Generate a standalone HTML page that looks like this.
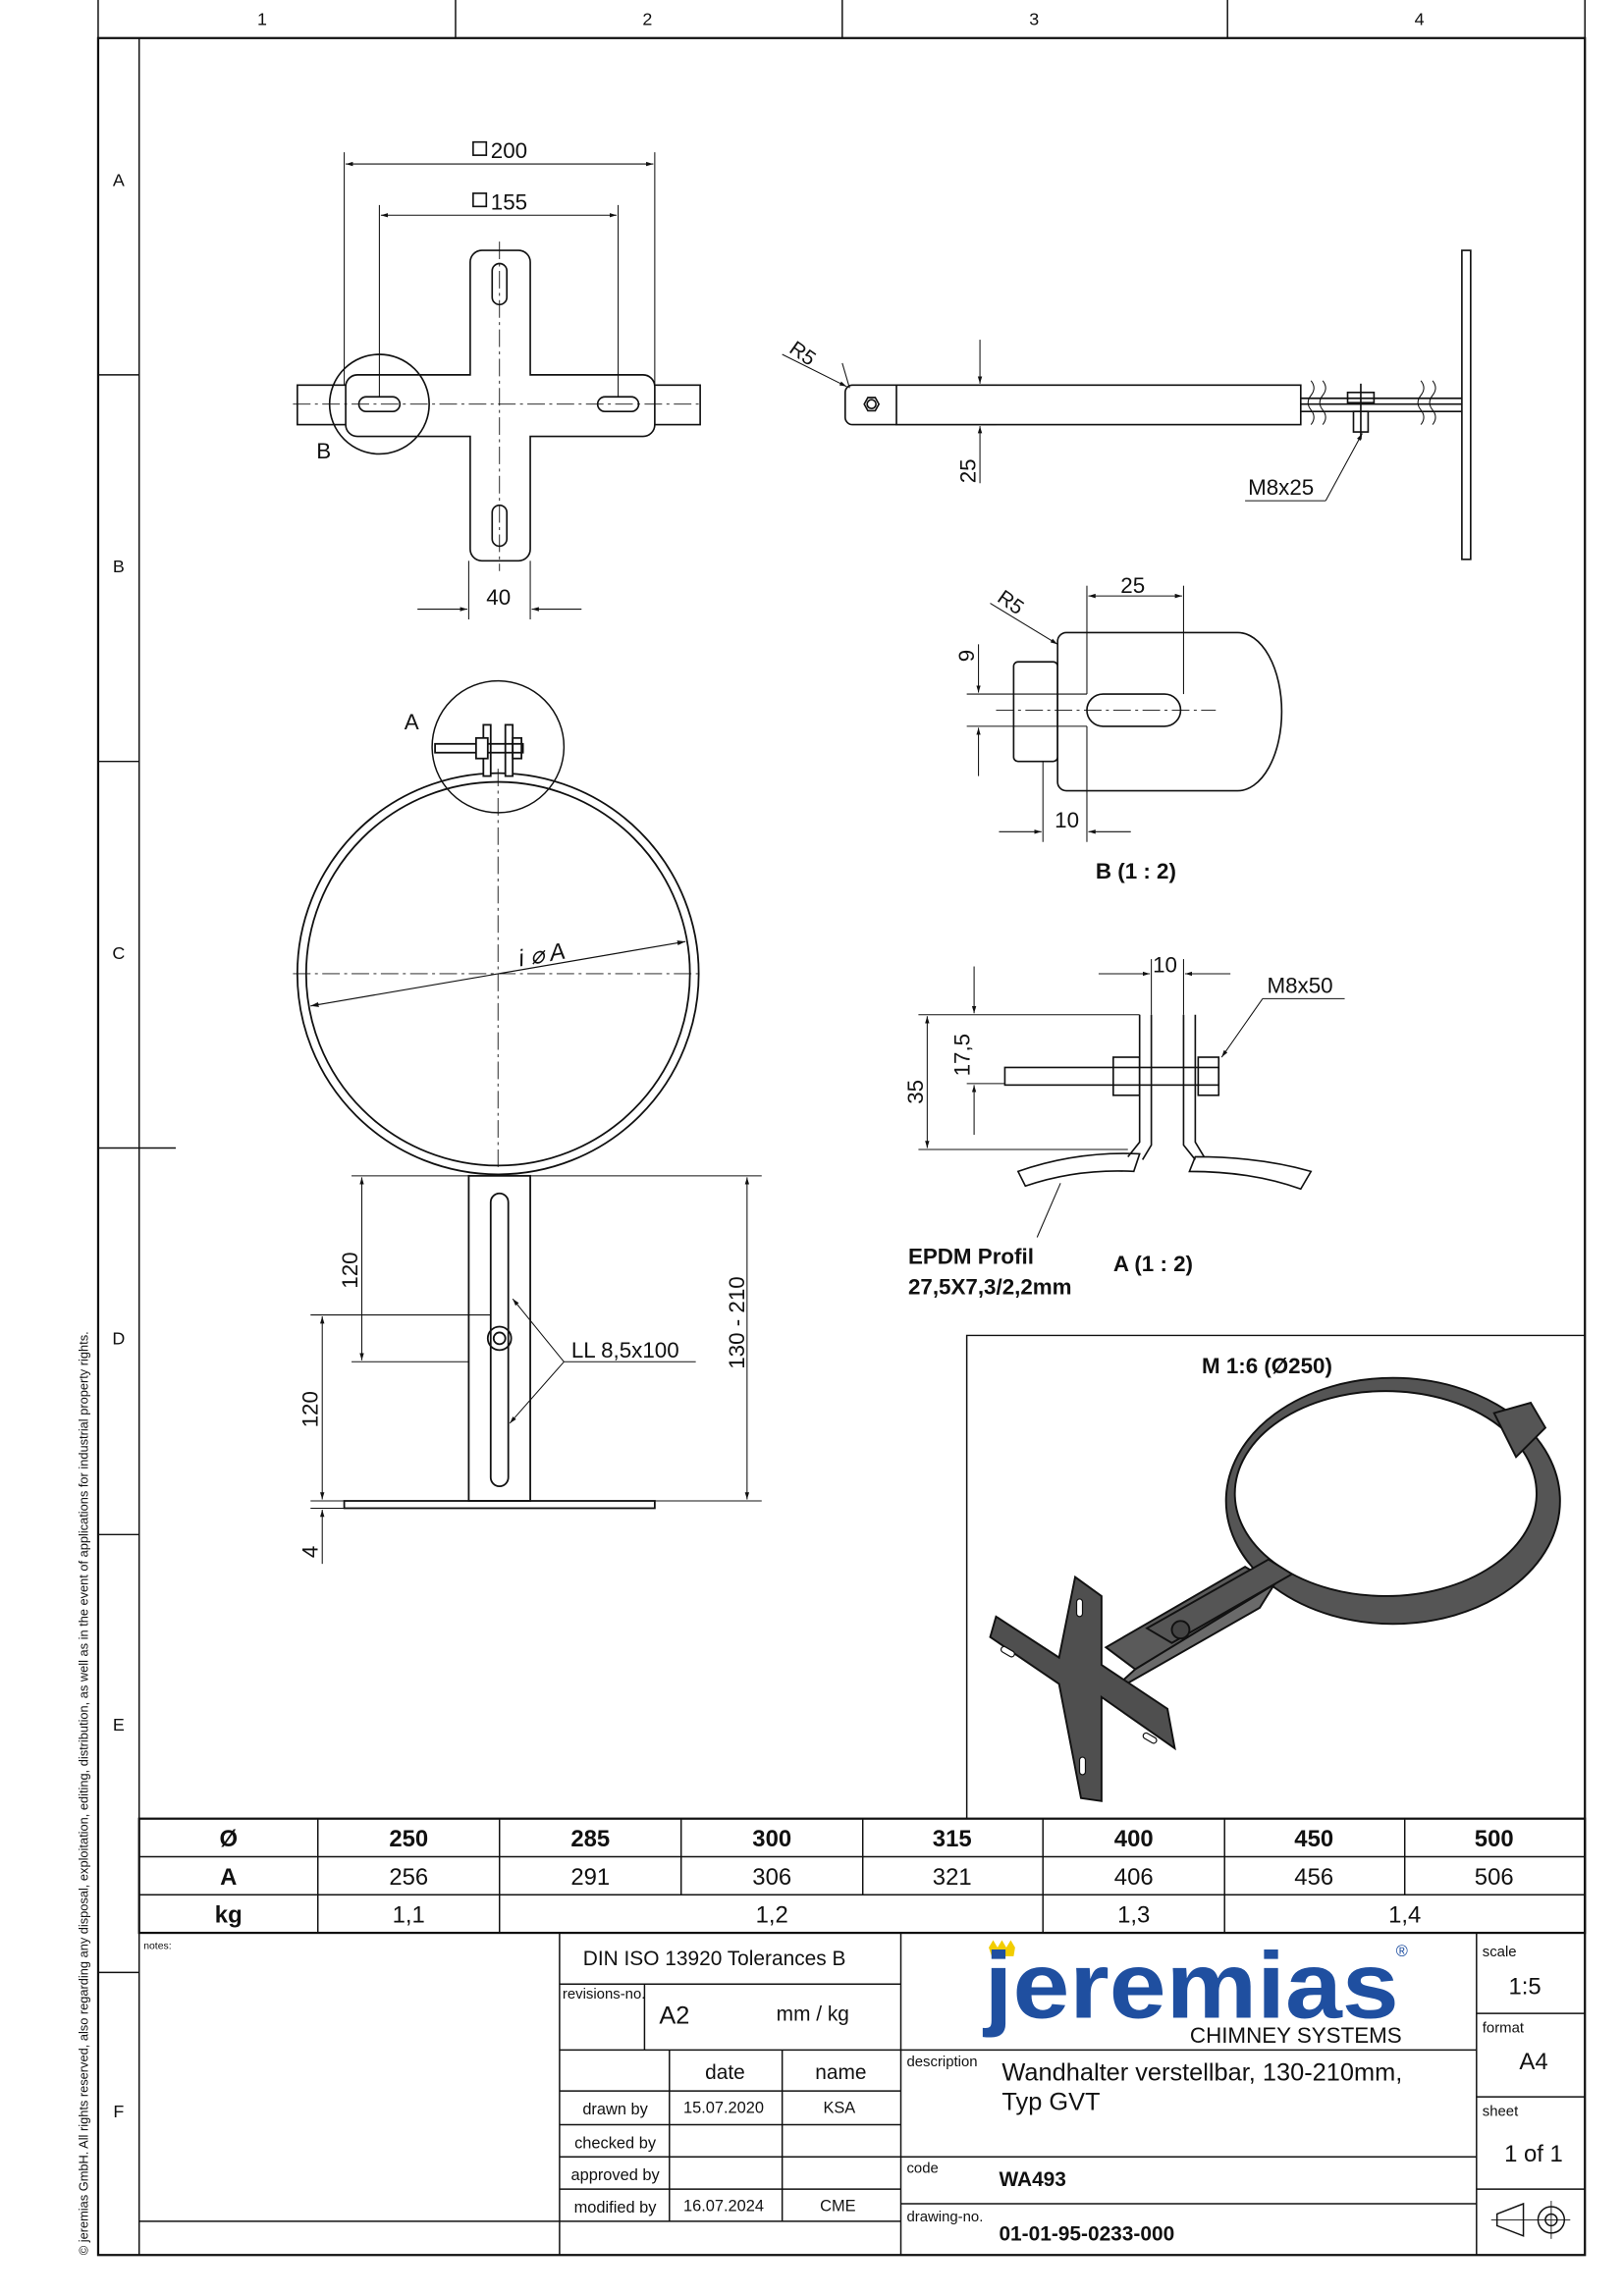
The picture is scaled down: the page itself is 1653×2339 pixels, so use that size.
<!DOCTYPE html>
<html><head><meta charset="utf-8"><style>
html,body{margin:0;padding:0;background:#fff}
svg{display:block}
text{font-family:"Liberation Sans",sans-serif;fill:#111}
</style></head><body>
<svg width="1653" height="2339" viewBox="0 0 1108 1568" preserveAspectRatio="none" xmlns="http://www.w3.org/2000/svg">
<defs>
<marker id="ar" viewBox="0 0 10 10" refX="10" refY="5" markerWidth="7" markerHeight="7" orient="auto-start-reverse"><path d="M0,2 L10,5 L0,8z" fill="#111"/></marker>
</defs>
<g fill="none" stroke="#111" stroke-width="1">
<line x1="67" y1="0" x2="67" y2="26"/>
<line x1="311" y1="0" x2="311" y2="26"/><line x1="575" y1="0" x2="575" y2="26"/><line x1="838" y1="0" x2="838" y2="26"/><line x1="1082" y1="0" x2="1082" y2="26"/>
<rect x="67" y="26" width="1015" height="1514" stroke-width="1.5"/>
<line x1="95" y1="26" x2="95" y2="1540"/>
<line x1="67" y1="256" x2="95" y2="256"/><line x1="67" y1="520" x2="95" y2="520"/><line x1="67" y1="784" x2="120" y2="784"/><line x1="67" y1="1048" x2="95" y2="1048"/><line x1="67" y1="1347" x2="95" y2="1347"/>
<rect x="95" y="1242" width="987" height="78" stroke-width="1.5"/>
<line x1="95" y1="1268" x2="1082" y2="1268"/><line x1="95" y1="1294" x2="1082" y2="1294"/>
<line x1="217" y1="1242" x2="217" y2="1320"/><line x1="341" y1="1242" x2="341" y2="1320"/>
<line x1="465" y1="1242" x2="465" y2="1294"/><line x1="589" y1="1242" x2="589" y2="1294"/>
<line x1="712" y1="1242" x2="712" y2="1320"/><line x1="836" y1="1242" x2="836" y2="1320"/>
<line x1="959" y1="1242" x2="959" y2="1294"/>
<line x1="382" y1="1320" x2="382" y2="1540"/><line x1="615" y1="1320" x2="615" y2="1540"/><line x1="1008" y1="1320" x2="1008" y2="1540"/>
<line x1="382" y1="1355" x2="615" y2="1355"/><line x1="440" y1="1355" x2="440" y2="1400"/>
<line x1="382" y1="1400" x2="1008" y2="1400"/>
<line x1="457" y1="1400" x2="457" y2="1517"/><line x1="534" y1="1400" x2="534" y2="1517"/>
<line x1="382" y1="1428" x2="615" y2="1428"/><line x1="382" y1="1451" x2="615" y2="1451"/><line x1="382" y1="1473" x2="615" y2="1473"/><line x1="382" y1="1495" x2="615" y2="1495"/>
<line x1="95" y1="1517" x2="615" y2="1517"/>
<line x1="615" y1="1473" x2="1008" y2="1473"/><line x1="615" y1="1505" x2="1008" y2="1505"/>
<line x1="1008" y1="1375" x2="1082" y2="1375"/><line x1="1008" y1="1432" x2="1082" y2="1432"/><line x1="1008" y1="1495" x2="1082" y2="1495"/>
<path d="M1022,1512 L1040,1505 L1040,1527 L1022,1520z"/><circle cx="1059" cy="1516" r="9"/><circle cx="1059" cy="1516" r="4"/><line x1="1018" y1="1516" x2="1072" y2="1516" stroke-width="0.6"/><line x1="1059" y1="1503" x2="1059" y2="1529" stroke-width="0.6"/>
<polyline points="660,1242 660,912 1082,912"/>
</g>

<g font-size="12" text-anchor="middle">
<text x="179" y="17">1</text><text x="442" y="17">2</text><text x="706" y="17">3</text><text x="969" y="17">4</text>
<text x="81" y="127">A</text><text x="81" y="391">B</text><text x="81" y="655">C</text><text x="81" y="918">D</text><text x="81" y="1182">E</text><text x="81" y="1446">F</text>
</g>
<text transform="translate(60,1540) rotate(-90)" font-size="8.6">© jeremias GmbH. All rights reserved, also regarding any disposal, exploitation, editing, distribution, as well as in the event of applications for industrial property rights.</text>

<g font-size="16" text-anchor="middle">
<g font-weight="bold"><text x="156" y="1261">Ø</text><text x="279" y="1261">250</text><text x="403" y="1261">285</text><text x="527" y="1261">300</text><text x="650" y="1261">315</text><text x="774" y="1261">400</text><text x="897" y="1261">450</text><text x="1020" y="1261">500</text>
<text x="156" y="1287">A</text><text x="156" y="1313">kg</text></g>
<text x="279" y="1287">256</text><text x="403" y="1287">291</text><text x="527" y="1287">306</text><text x="650" y="1287">321</text><text x="774" y="1287">406</text><text x="897" y="1287">456</text><text x="1020" y="1287">506</text>
<text x="279" y="1313">1,1</text><text x="527" y="1313">1,2</text><text x="774" y="1313">1,3</text><text x="959" y="1313">1,4</text>
</g>
<text x="98" y="1331" font-size="7">notes:</text>
<text x="398" y="1342" font-size="14">DIN ISO 13920 Tolerances B</text>
<text x="384" y="1365" font-size="10">revisions-no.</text>
<text x="450" y="1382" font-size="17">A2</text>
<text x="530" y="1380" font-size="14">mm / kg</text>
<text x="495" y="1420" font-size="14" text-anchor="middle">date</text><text x="574" y="1420" font-size="14" text-anchor="middle">name</text>
<g font-size="11" text-anchor="middle"><text x="420" y="1444">drawn by</text><text x="494" y="1443">15.07.2020</text><text x="573" y="1443">KSA</text>
<text x="420" y="1467">checked by</text><text x="420" y="1489">approved by</text>
<text x="420" y="1511">modified by</text><text x="494" y="1510">16.07.2024</text><text x="572" y="1510">CME</text></g>
<text x="619" y="1411" font-size="10">description</text>
<text x="684" y="1421" font-size="17">Wandhalter verstellbar, 130-210mm,</text>
<text x="684" y="1441" font-size="17">Typ GVT</text>
<text x="619" y="1484" font-size="10">code</text><text x="682" y="1493" font-size="14" font-weight="bold">WA493</text>
<text x="619" y="1517" font-size="10">drawing-no.</text><text x="682" y="1530" font-size="14" font-weight="bold">01-01-95-0233-000</text>
<text x="1012" y="1336" font-size="10">scale</text><text x="1041" y="1362" font-size="16" text-anchor="middle">1:5</text>
<text x="1012" y="1388" font-size="10">format</text><text x="1047" y="1413" font-size="16" text-anchor="middle">A4</text>
<text x="1012" y="1445" font-size="10">sheet</text><text x="1047" y="1476" font-size="16" text-anchor="middle">1 of 1</text>
<path d="M675,1330 L678,1325 L681,1330 L684,1325 L687,1330 L690,1325 L693,1330 L692,1336 L677,1336z" fill="#f2cd00"/>
<text x="672" y="1378" font-size="64" font-weight="bold" textLength="283" lengthAdjust="spacingAndGlyphs" style="fill:#1f4fa0">jeremias</text>
<text x="953" y="1336" font-size="11" style="fill:#1f4fa0">®</text>
<text x="957" y="1395" font-size="15" text-anchor="end">CHIMNEY SYSTEMS</text>

<g fill="none" stroke="#111" stroke-width="1.1">
<rect x="203" y="263" width="275" height="27"/>
<path d="M329,171 h25 a8,8 0 0 1 8,8 v77 h77 a8,8 0 0 1 8,8 v26 a8,8 0 0 1 -8,8 h-77 v77 a8,8 0 0 1 -8,8 h-25 a8,8 0 0 1 -8,-8 v-77 h-77 a8,8 0 0 1 -8,-8 v-26 a8,8 0 0 1 8,-8 h77 v-77 a8,8 0 0 1 8,-8z" fill="#fff"/>
<rect x="336" y="180" width="10" height="28" rx="5"/><rect x="336" y="345" width="10" height="28" rx="5"/>
<rect x="245" y="271" width="28" height="10" rx="5"/><rect x="408" y="271" width="28" height="10" rx="5"/>
<circle cx="259" cy="276" r="34"/>
<g stroke-width="0.6" stroke-dasharray="12,3,2,3"><line x1="200" y1="276" x2="480" y2="276"/><line x1="341" y1="165" x2="341" y2="390"/></g>
<g stroke-width="0.7"><line x1="235" y1="104" x2="235" y2="263"/><line x1="447" y1="104" x2="447" y2="263"/><line x1="259" y1="140" x2="259" y2="271"/><line x1="422" y1="140" x2="422" y2="271"/>
<line x1="236" y1="112" x2="446" y2="112" marker-start="url(#ar)" marker-end="url(#ar)"/>
<line x1="260" y1="147" x2="421" y2="147" marker-start="url(#ar)" marker-end="url(#ar)"/>
<line x1="320" y1="383" x2="320" y2="423"/><line x1="362" y1="383" x2="362" y2="423"/>
<line x1="285" y1="416" x2="319" y2="416" marker-end="url(#ar)"/><line x1="397" y1="416" x2="363" y2="416" marker-end="url(#ar)"/></g>
<rect x="323" y="97" width="9" height="9"/><rect x="323" y="132" width="9" height="9"/>
</g>
<text x="335" y="108" font-size="15">200</text><text x="335" y="143" font-size="15">155</text>
<text x="332" y="413" font-size="15">40</text><text x="216" y="313" font-size="15">B</text>

<g fill="none" stroke="#111" stroke-width="1.1">
<path d="M612,263 H582 a5,5 0 0 0 -5,5 v17 a5,5 0 0 0 5,5 H612"/>
<rect x="612" y="263" width="276" height="27"/>
<polygon points="590,276 592.5,271.5 597.5,271.5 600,276 597.5,280.5 592.5,280.5"/><circle cx="595" cy="276" r="3"/>
<rect x="998" y="171" width="6" height="211"/>
<line x1="888" y1="276" x2="998" y2="276"/><line x1="888" y1="272" x2="998" y2="272"/><line x1="888" y1="281" x2="998" y2="281"/>
<rect x="920" y="268" width="18" height="7"/><rect x="924" y="281" width="10" height="14"/><line x1="929" y1="262" x2="929" y2="300"/>
<path d="M895,260 q4,5 0,10 q-4,5 0,10 q4,5 0,10" stroke-width="0.7"/><path d="M903,260 q4,5 0,10 q-4,5 0,10 q4,5 0,10" stroke-width="0.7"/>
<path d="M970,260 q4,5 0,10 q-4,5 0,10 q4,5 0,10" stroke-width="0.7"/><path d="M978,260 q4,5 0,10 q-4,5 0,10 q4,5 0,10" stroke-width="0.7"/>
<g stroke-width="0.7">
<line x1="575" y1="248" x2="580" y2="265"/><line x1="534" y1="242" x2="578" y2="264" marker-end="url(#ar)"/>
<line x1="612" y1="263" x2="680" y2="263"/><line x1="612" y1="290" x2="680" y2="290"/>
<line x1="669" y1="232" x2="669" y2="262" marker-end="url(#ar)"/><line x1="669" y1="330" x2="669" y2="291" marker-end="url(#ar)"/>
<line x1="850" y1="342" x2="905" y2="342"/><line x1="905" y1="342" x2="930" y2="296" marker-end="url(#ar)"/></g>
</g>
<text transform="translate(538,240) rotate(35)" font-size="14">R5</text>
<text transform="translate(666,330) rotate(-90)" font-size="15">25</text>
<text x="852" y="338" font-size="15">M8x25</text>

<g fill="none" stroke="#111" stroke-width="1.1">
<rect x="692" y="452" width="30" height="68" rx="3"/>
<path d="M728,432 H845 a30,54 0 0 1 0,108 H728 a6,6 0 0 1 -6,-6 V438 a6,6 0 0 1 6,-6z" fill="#fff"/>
<rect x="742" y="474" width="64" height="22" rx="11"/>
<line x1="680" y1="485" x2="830" y2="485" stroke-width="0.6" stroke-dasharray="12,3,2,3"/>
<g stroke-width="0.7">
<line x1="742" y1="400" x2="742" y2="474"/><line x1="808" y1="400" x2="808" y2="474"/>
<line x1="743" y1="407" x2="807" y2="407" marker-start="url(#ar)" marker-end="url(#ar)"/>
<line x1="712" y1="520" x2="712" y2="575"/><line x1="742" y1="496" x2="742" y2="575"/>
<line x1="682" y1="568" x2="711" y2="568" marker-end="url(#ar)"/><line x1="772" y1="568" x2="743" y2="568" marker-end="url(#ar)"/>
<line x1="660" y1="474" x2="742" y2="474"/><line x1="660" y1="496" x2="742" y2="496"/>
<line x1="668" y1="440" x2="668" y2="473" marker-end="url(#ar)"/><line x1="668" y1="530" x2="668" y2="497" marker-end="url(#ar)"/>
<line x1="676" y1="412" x2="722" y2="440" marker-end="url(#ar)"/></g>
</g>
<text x="765" y="405" font-size="15">25</text><text x="720" y="565" font-size="15">10</text>
<text transform="translate(665,452) rotate(-90)" font-size="15">9</text>
<text transform="translate(680,410) rotate(35)" font-size="14">R5</text>
<text x="748" y="600" font-size="15" font-weight="bold">B (1 : 2)</text>

<g fill="none" stroke="#111" stroke-width="1.1">
<path d="M778,693 V780 L770,790 M786,693 V782 L780,792"/>
<path d="M808,693 V782 L816,792 M816,693 V780 L822,790"/>
<rect x="686" y="729" width="146" height="12"/>
<rect x="760" y="722" width="18" height="26"/><rect x="818" y="722" width="14" height="26"/>
<path d="M695,800 Q735,786 778,788 L774,800 Q735,798 700,810z"/>
<path d="M816,790 Q860,790 895,800 L888,812 Q855,800 812,800z"/>
<g stroke-width="0.7">
<line x1="627" y1="693" x2="778" y2="693"/><line x1="627" y1="785" x2="770" y2="785"/><line x1="660" y1="740" x2="686" y2="740"/>
<line x1="633" y1="694" x2="633" y2="784" marker-start="url(#ar)" marker-end="url(#ar)"/>
<line x1="665" y1="660" x2="665" y2="692" marker-end="url(#ar)"/><line x1="665" y1="775" x2="665" y2="741" marker-end="url(#ar)"/>
<line x1="786" y1="655" x2="786" y2="693"/><line x1="808" y1="655" x2="808" y2="693"/>
<line x1="750" y1="665" x2="785" y2="665" marker-end="url(#ar)"/><line x1="840" y1="665" x2="809" y2="665" marker-end="url(#ar)"/>
<line x1="918" y1="682" x2="862" y2="682"/><line x1="862" y1="682" x2="834" y2="722" marker-end="url(#ar)"/>
<line x1="708" y1="845" x2="724" y2="808"/></g>
</g>
<text x="787" y="664" font-size="15">10</text><text x="865" y="678" font-size="15">M8x50</text>
<text transform="translate(630,754) rotate(-90)" font-size="15">35</text>
<text transform="translate(662,735) rotate(-90)" font-size="15">17,5</text>
<text x="620" y="863" font-size="15" font-weight="bold">EPDM Profil</text>
<text x="620" y="884" font-size="15" font-weight="bold">27,5X7,3/2,2mm</text>
<text x="760" y="868" font-size="15" font-weight="bold">A (1 : 2)</text>

<g fill="none" stroke="#111" stroke-width="1.2">
<circle cx="340" cy="665" r="137"/><circle cx="340" cy="665" r="131"/>
<circle cx="340" cy="510" r="45" stroke-width="1"/>
<rect x="330" y="495" width="5" height="35" fill="#fff"/><rect x="345" y="495" width="5" height="35" fill="#fff"/>
<rect x="297" y="508" width="60" height="6"/><rect x="325" y="504" width="8" height="14" fill="#fff"/><rect x="350" y="504" width="6" height="14"/>
<g stroke-width="0.6" stroke-dasharray="12,3,2,3"><line x1="200" y1="665" x2="480" y2="665"/><line x1="340" y1="525" x2="340" y2="800"/></g>
<line x1="212" y1="687" x2="468" y2="643" stroke-width="0.8" marker-start="url(#ar)" marker-end="url(#ar)"/>
<rect x="320" y="803" width="42" height="222" fill="#fff"/>
<rect x="335" y="815" width="12" height="200" rx="6"/>
<rect x="235" y="1025" width="212" height="5"/>
<circle cx="341" cy="914" r="8"/><circle cx="341" cy="914" r="4"/>
<g stroke-width="0.7">
<line x1="240" y1="803" x2="320" y2="803"/><line x1="240" y1="930" x2="320" y2="930"/>
<line x1="247" y1="804" x2="247" y2="929" marker-start="url(#ar)" marker-end="url(#ar)"/>
<line x1="212" y1="898" x2="335" y2="898"/><line x1="212" y1="1025" x2="235" y2="1025"/><line x1="212" y1="1030" x2="235" y2="1030"/>
<line x1="220" y1="899" x2="220" y2="1024" marker-start="url(#ar)" marker-end="url(#ar)"/>
<line x1="220" y1="1068" x2="220" y2="1031" marker-end="url(#ar)"/>
<line x1="362" y1="803" x2="520" y2="803"/><line x1="447" y1="1025" x2="520" y2="1025"/>
<line x1="510" y1="804" x2="510" y2="1024" marker-start="url(#ar)" marker-end="url(#ar)"/>
<line x1="385" y1="930" x2="475" y2="930"/><line x1="385" y1="930" x2="350" y2="887" marker-end="url(#ar)"/><line x1="385" y1="930" x2="348" y2="972" marker-end="url(#ar)"/></g>
</g>
<text transform="translate(355,660) rotate(-10)" font-size="16" font-style="italic">i ⌀ A</text>
<text x="276" y="498" font-size="15">A</text>
<text transform="translate(244,880) rotate(-90)" font-size="15">120</text>
<text transform="translate(217,975) rotate(-90)" font-size="15">120</text>
<text transform="translate(217,1064) rotate(-90)" font-size="15">4</text>
<text transform="translate(508,935) rotate(-90)" font-size="15">130 - 210</text>
<text x="390" y="927" font-size="15">LL 8,5x100</text>

<text x="865" y="938" font-size="15" font-weight="bold" text-anchor="middle">M 1:6 (Ø250)</text>
<g stroke="#111" stroke-width="1.3">
<ellipse cx="951" cy="1025" rx="114" ry="84" fill="#555"/>
<ellipse cx="946" cy="1020" rx="103" ry="70" fill="#fff"/>
<path d="M755,1125 L850,1070 L870,1082 L775,1140z" fill="#5a5a5a"/>
<path d="M755,1158 L860,1098 L870,1082 L775,1140z" fill="#6a6a6a"/>
<path d="M783,1112 L866,1065 L882,1075 L800,1122z" fill="#555"/>
<circle cx="806" cy="1113" r="6" fill="#444"/>
<path d="M1020,965 L1045,958 L1055,975 L1035,995z" fill="#555"/>
<path d="M734,1077 L752,1090 L752,1137 L797,1167 L802,1194 L752,1159 L752,1230 L738,1228 L723,1150 L676,1118 L680,1104 L723,1132z" fill="#4f4f4f"/>
</g>
<g fill="#fff" stroke="#111" stroke-width="0.8">
<rect x="735" y="1092" width="4" height="12" rx="2"/><rect x="737" y="1200" width="4" height="12" rx="2"/>
<rect x="683" y="1126" width="10" height="4" rx="2" transform="rotate(30 688 1128)"/><rect x="780" y="1185" width="10" height="4" rx="2" transform="rotate(30 785 1187)"/>
</g>
</svg>
</body></html>
